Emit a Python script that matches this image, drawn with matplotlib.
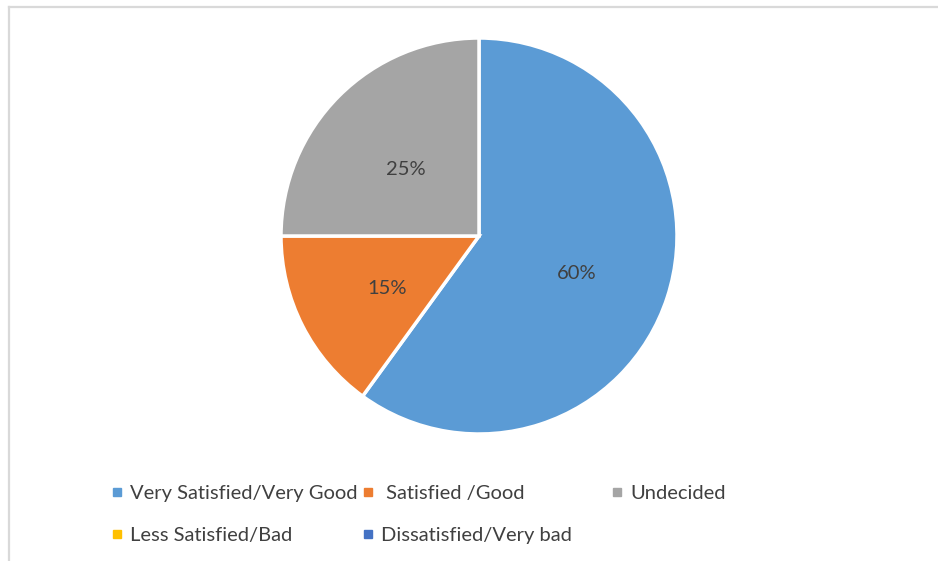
import matplotlib.pyplot as plt
from matplotlib.lines import Line2D

# answers to the satisfaction question, in percent
categories = ["Very Satisfied/Very Good", " Satisfied /Good", "Undecided",
              "Less Satisfied/Bad", "Dissatisfied/Very bad"]
values = [60, 15, 25, 0, 0]
colors = ["#5B9BD5", "#ED7D31", "#A5A5A5", "#FFC000", "#4472C4"]

plt.rcParams["font.family"] = ["Lato", "DejaVu Sans"]
text_color = "#404040"

W, H = 938, 561
fig = plt.figure(figsize=(W / 100, H / 100), dpi=100)

# pie axes: centre (479, 236) px, radius 198 px
cx, cy, r = 479, 236, 198
ax = fig.add_axes([(cx - r) / W, (H - cy - r) / H, 2 * r / W, 2 * r / H])

shown = [v for v in values if v > 0]
wedges, texts, autotexts = ax.pie(
    shown,
    colors=colors[:len(shown)],
    startangle=90,
    counterclock=False,
    autopct="%d%%",
    pctdistance=0.52,
    wedgeprops=dict(edgecolor="white", linewidth=2.5),
    textprops=dict(color=text_color, fontsize=14.5),
)
for t in autotexts:
    x, y = t.get_position()
    t.set_position((x, y - 0.03))
ax.set_xlim(-1, 1)
ax.set_ylim(-1, 1)
ax.axis("off")

# legend, laid out in Excel's order: three columns, row by row
handles = [Line2D([], [], marker="s", linestyle="none", markersize=6,
                  markerfacecolor=c, markeredgecolor=c) for c in colors]
cols = [[0, 3], [1, 4], [2]]
col_x = [111, 362, 611]
for idx, x in zip(cols, col_x):
    fig.legend([handles[i] for i in idx], [categories[i] for i in idx],
               loc="upper left", bbox_to_anchor=(x / W, 1 - 485 / H),
               frameon=False, fontsize=14.5, labelcolor=text_color,
               handlelength=0.55, handletextpad=0.4, labelspacing=1.25,
               borderpad=0, borderaxespad=0)

# chart frame (left and top edges visible)
frame = "#D9D9D9"
fig.add_artist(Line2D([8.5 / W, 8.5 / W], [0, 1 - 7 / H], color=frame,
                      lw=1.6, transform=fig.transFigure))
fig.add_artist(Line2D([8.5 / W, 1], [1 - 7 / H, 1 - 7 / H], color=frame,
                      lw=1.6, transform=fig.transFigure))

fig.savefig("out.png", dpi=100)
